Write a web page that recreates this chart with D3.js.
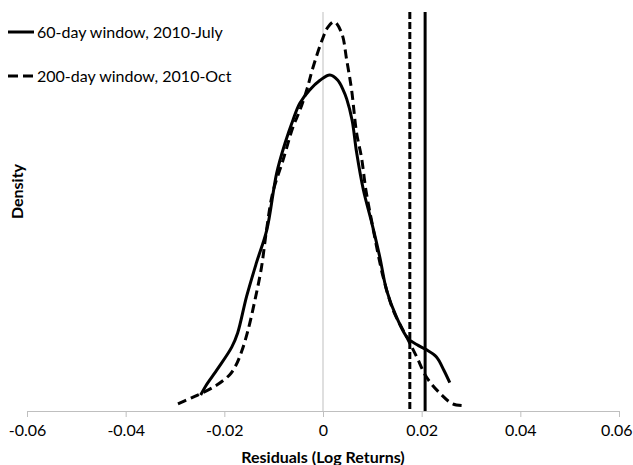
<!DOCTYPE html>
<html>
<head>
<meta charset="utf-8">
<script src="https://cdn.jsdelivr.net/npm/d3@7"></script>
<style>
  body { margin: 0; background: #fff; }
  text { font-family: Lato, "Open Sans", sans-serif; }
</style>
</head>
<body>
<script>
const width = 633;
const height = 465;
const marginTop = 12;
const marginRight = 14;
const marginBottom = 54;
const marginLeft = 27;

// residual, density
const solidX = [-0.0248, -0.0238, -0.0213, -0.0185, -0.0173, -0.0155, -0.0135, -0.0114, -0.0094, -0.0077, -0.0061, -0.0047, -0.0027, -0.0006, 0.0014, 0.0030, 0.0041, 0.0048, 0.0059, 0.0068, 0.0082, 0.0099, 0.0115, 0.0129, 0.0149, 0.0172, 0.0193, 0.0210, 0.0230, 0.0245, 0.0257];
const solidY = [1.8, 2.8, 4.8, 7.2, 8.8, 12.9, 16.7, 20.4, 26.8, 30.2, 32.8, 34.7, 36.2, 37.3, 37.9, 37.3, 36.2, 35.2, 32.8, 29.2, 24.9, 21.2, 17.4, 13.6, 10.6, 8.2, 7.4, 6.9, 6.1, 4.6, 3.2];

const dashX = [-0.0294, -0.0270, -0.0254, -0.0216, -0.0189, -0.0177, -0.0165, -0.0152, -0.0138, -0.0125, -0.0114, -0.0102, -0.0081, -0.0061, -0.0047, -0.0033, -0.0020, 0.0000, 0.0010, 0.0023, 0.0038, 0.0048, 0.0058, 0.0068, 0.0078, 0.0087, 0.0099, 0.0115, 0.0122, 0.0142, 0.0170, 0.0190, 0.0210, 0.0237, 0.0263, 0.0284];
const dashY = [0.8, 1.4, 1.8, 2.9, 4.1, 5.1, 6.7, 9.1, 12.5, 16.1, 20.6, 24.6, 28.3, 32.0, 33.9, 36.2, 38.8, 42.1, 43.3, 43.9, 42.6, 39.6, 36.2, 31.4, 28.6, 24.9, 21.3, 16.8, 15.1, 11.4, 8.3, 6.1, 3.8, 2.0, 0.8, 0.6];

// VaR markers
const varSolid = 0.0207;
const varDash = 0.0176;

const xTicks = [-0.06, -0.04, -0.02, 0, 0.02, 0.04, 0.06];
const legendLabels = ["60-day window, 2010-July", "200-day window, 2010-Oct"];

const svg = d3.select("body").append("svg")
  .attr("width", width)
  .attr("height", height);

const x = d3.scaleLinear()
  .domain([-0.06, 0.06])
  .range([marginLeft, width - marginRight]);

const y = d3.scaleLinear()
  .domain([0, 45])
  .range([height - marginBottom, marginTop]);

// zero line (value axis)
svg.append("line")
  .attr("x1", x(0)).attr("x2", x(0))
  .attr("y1", y(45)).attr("y2", y(0))
  .attr("stroke", "#bfbfbf")
  .attr("stroke-width", 1);

const xAxis = svg.append("g")
  .attr("transform", `translate(0,${y(0)})`)
  .call(d3.axisBottom(x).tickValues(xTicks).tickSize(6).tickSizeOuter(0)
    .tickFormat(d => d === 0 ? "0" : d.toFixed(2)));
xAxis.select(".domain").attr("stroke", "#bfbfbf");
xAxis.selectAll(".tick line").attr("stroke", "#bfbfbf");
xAxis.selectAll(".tick text")
  .attr("y", 14)
  .attr("font-size", 16)
  .attr("font-family", "Lato, sans-serif")
  .attr("fill", "#000");
// last label would run off the right edge
xAxis.selectAll(".tick text").filter(d => d === 0.06)
  .attr("text-anchor", "end")
  .attr("x", width - 1 - x(0.06));

const line = d3.line()
  .x(d => x(d[0]))
  .y(d => y(d[1]))
  .curve(d3.curveCatmullRom);

svg.append("path")
  .datum(d3.zip(solidX, solidY))
  .attr("d", line)
  .attr("fill", "none")
  .attr("stroke", "#000")
  .attr("stroke-width", 3);

svg.append("path")
  .datum(d3.zip(dashX, dashY))
  .attr("d", line)
  .attr("fill", "none")
  .attr("stroke", "#000")
  .attr("stroke-width", 3)
  .attr("stroke-dasharray", "9,5");

svg.append("line")
  .attr("x1", x(varDash)).attr("x2", x(varDash))
  .attr("y1", y(45)).attr("y2", y(0))
  .attr("stroke", "#000")
  .attr("stroke-width", 3)
  .attr("stroke-dasharray", "7,3");

svg.append("line")
  .attr("x1", x(varSolid)).attr("x2", x(varSolid))
  .attr("y1", y(45)).attr("y2", y(0))
  .attr("stroke", "#000")
  .attr("stroke-width", 3);

// legend
const legend = svg.selectAll(".legend")
  .data(legendLabels)
  .enter().append("g")
  .attr("transform", (d, i) => `translate(8,${32 + i * 44})`);

legend.append("line")
  .attr("x1", 0).attr("x2", 26)
  .attr("stroke", "#000")
  .attr("stroke-width", 3)
  .attr("stroke-dasharray", (d, i) => i === 0 ? null : "10,5");

legend.append("text")
  .attr("x", 29)
  .attr("dy", "0.35em")
  .attr("font-size", 16)
  .text(d => d);

svg.append("text")
  .attr("x", x(0))
  .attr("y", 463)
  .attr("text-anchor", "middle")
  .attr("font-weight", "bold")
  .attr("font-size", 16)
  .text("Residuals (Log Returns)");

svg.append("text")
  .attr("transform", `translate(23,${(marginTop + height - marginBottom) / 2 - 20}) rotate(-90)`)
  .attr("text-anchor", "middle")
  .attr("font-weight", "bold")
  .attr("font-size", 16)
  .text("Density");
</script>
</body>
</html>
